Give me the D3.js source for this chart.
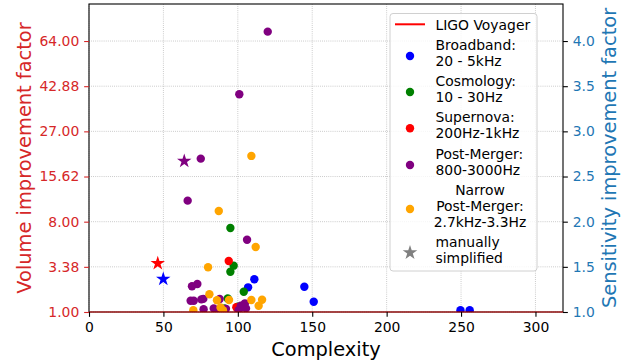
<!DOCTYPE html>
<html>
<head>
<meta charset="utf-8">
<script src="https://cdn.jsdelivr.net/npm/d3@7"></script>
<style>
  html, body { margin: 0; padding: 0; background: #fff; }
  svg { display: block; font-family: "DejaVu Sans", sans-serif; }
</style>
</head>
<body>
<svg id="chart" width="630" height="364"></svg>
<script>
// Complexity vs. sensitivity improvement (relative to LIGO Voyager) per detector search class.
// Each series: complexity values and sensitivity improvement factors.
const broadbandX = [111.1, 106.9, 144.7, 151.0, 249.6, 255.8];
const broadbandY = [1.362, 1.273, 1.280, 1.114, 1.02, 1.02];

const cosmologyX = [95.0, 97.2, 95.0, 104.0, 93.2, 91.0, 100.0];
const cosmologyY = [1.930, 1.513, 1.446, 1.225, 1.15, 1.04, 1.06];

const supernovaX = [93.9, 99.0];
const supernovaY = [1.565, 1.052];

const postMergerX = [120.1, 101.0, 75.1, 66.3, 106.2, 69.2, 72.8, 68.3, 70.4, 75.5, 76.8, 87.8, 104.8, 77.0, 83.8, 92.0, 102.0, 103.5, 105.5, 100.5, 86.0];
const postMergerY = [4.104, 3.411, 2.698, 2.233, 1.800, 1.285, 1.31, 1.125, 1.125, 1.14, 1.145, 1.144, 1.096, 1.03, 1.04, 1.035, 1.07, 1.055, 1.04, 1.02, 1.02];

const narrowX = [109.1, 87.2, 112.0, 80.0, 80.9, 70.1, 86.0, 94.1, 109.1, 116.3, 114.0, 88.4, 90.0];
const narrowY = [2.728, 2.118, 1.720, 1.495, 1.196, 1.02, 1.13, 1.133, 1.133, 1.136, 1.07, 1.05, 1.02];

// Manually simplified designs (stars)
const starX = [49.9, 46.2, 64.0];
const starY = [1.365, 1.539, 2.672];
const starColor = ["blue", "red", "purple"];

// Axis ticks
const xTicks = [0, 50, 100, 150, 200, 250, 300];
const sensTicks = [1.0, 1.5, 2.0, 2.5, 3.0, 3.5, 4.0];
const volumeTickLabels = ["1.00", "3.38", "8.00", "15.62", "27.00", "42.88", "64.00"];
const sensTickLabels = ["1.0", "1.5", "2.0", "2.5", "3.0", "3.5", "4.0"];

const voyagerLevel = 1.0;

const series = [
  { name: "Broadband", xs: broadbandX, ys: broadbandY, color: "blue", label: ["Broadband:", "20 - 5kHz"] },
  { name: "Cosmology", xs: cosmologyX, ys: cosmologyY, color: "green", label: ["Cosmology:", "10 - 30Hz"] },
  { name: "Supernova", xs: supernovaX, ys: supernovaY, color: "red", label: ["Supernova:", "200Hz-1kHz"] },
  { name: "PostMerger", xs: postMergerX, ys: postMergerY, color: "purple", label: ["Post-Merger:", "800-3000Hz"] },
  { name: "Narrow", xs: narrowX, ys: narrowY, color: "orange", label: ["Narrow", "Post-Merger:", "2.7kHz-3.3Hz"], center: true }
];

const RED = "#d62728", BLUE = "#1f77b4";
const FS = 13.9, LFS = 19.4, TICK = 4.86, PAD = 4.86;

const svg = d3.select("#chart");
const L = 89, R = 563, T = 4, B = 312;

const x = d3.scaleLinear().domain([0, 318.5]).range([L, R]);
const y = d3.scaleLinear().domain([1, 4.41]).range([B, T]);

svg.append("defs").append("clipPath").attr("id", "plotclip")
  .append("rect").attr("x", L).attr("y", T).attr("width", R - L).attr("height", B - T);

// Grid
const grid = svg.append("g").attr("stroke", "#b0b0b0").attr("stroke-width", 0.8)
  .attr("stroke-dasharray", "0.8,1.3");
grid.selectAll("line.v").data(xTicks).join("line")
  .attr("x1", d => x(d)).attr("x2", d => x(d)).attr("y1", T).attr("y2", B);
grid.selectAll("line.h").data(sensTicks).join("line")
  .attr("y1", d => y(d)).attr("y2", d => y(d)).attr("x1", L).attr("x2", R);

const plot = svg.append("g").attr("clip-path", "url(#plotclip)");

// Star path (matplotlib-like 5-point star)
function starPath(r) {
  const inner = r * 0.381966;
  const pts = [];
  for (let i = 0; i < 10; i++) {
    const rad = i % 2 === 0 ? r : inner;
    const a = -Math.PI / 2 + i * Math.PI / 5;
    pts.push([rad * Math.cos(a), rad * Math.sin(a)]);
  }
  return "M" + pts.map(p => p[0].toFixed(2) + "," + p[1].toFixed(2)).join("L") + "Z";
}

// Points
series.forEach(s => {
  plot.append("g").selectAll("circle").data(s.xs.map((v, i) => [v, s.ys[i]])).join("circle")
    .attr("cx", d => x(d[0])).attr("cy", d => y(d[1])).attr("r", 4.2)
    .attr("fill", s.color);
});
plot.append("g").selectAll("path").data(starX.map((v, i) => [v, starY[i], starColor[i]])).join("path")
  .attr("d", starPath(7.6))
  .attr("transform", d => `translate(${x(d[0])},${y(d[1])})`)
  .attr("fill", d => d[2]);

// Spines
svg.append("rect").attr("x", L).attr("y", T).attr("width", R - L).attr("height", B - T)
  .attr("fill", "none").attr("stroke", "#000").attr("stroke-width", 1.1);

// LIGO Voyager reference line
svg.append("line").attr("x1", L).attr("x2", R)
  .attr("y1", y(voyagerLevel)).attr("y2", y(voyagerLevel))
  .attr("stroke", "red").attr("stroke-width", 1.6).attr("stroke-opacity", 0.5);

// Axes
function styleAxis(g, color, tickColor) {
  g.select(".domain").remove();
  g.selectAll(".tick line").attr("stroke", tickColor).attr("stroke-width", 1.1);
  g.selectAll(".tick text").attr("fill", color).attr("font-size", FS)
    .attr("font-family", "DejaVu Sans");
}

const xAxis = svg.append("g").attr("transform", `translate(0,${B})`)
  .call(d3.axisBottom(x).tickValues(xTicks).tickFormat(d3.format("d")).tickSize(TICK).tickPadding(PAD));
styleAxis(xAxis, "#000", "#000");

const yLeft = svg.append("g").attr("transform", `translate(${L},0)`)
  .call(d3.axisLeft(y).tickValues(sensTicks).tickFormat((d, i) => volumeTickLabels[i]).tickSize(TICK).tickPadding(PAD));
styleAxis(yLeft, RED, RED);

const yRight = svg.append("g").attr("transform", `translate(${R},0)`)
  .call(d3.axisRight(y).tickValues(sensTicks).tickFormat((d, i) => sensTickLabels[i]).tickSize(TICK).tickPadding(PAD));
styleAxis(yRight, BLUE, "#000");

// Axis titles
svg.append("text").attr("x", (L + R) / 2).attr("y", 356).attr("text-anchor", "middle")
  .attr("font-size", LFS).attr("fill", "#000").text("Complexity");
svg.append("text").attr("transform", `translate(31,${(T + B) / 2}) rotate(-90)`)
  .attr("text-anchor", "middle").attr("font-size", LFS).attr("fill", RED)
  .text("Volume improvement factor");
svg.append("text").attr("transform", `translate(616,${(T + B) / 2}) rotate(-90)`)
  .attr("text-anchor", "middle").attr("font-size", LFS).attr("fill", BLUE)
  .text("Sensitivity improvement factor");

// Legend
const lg = svg.append("g");
lg.append("rect").attr("x", 390).attr("y", 13.5).attr("width", 147).attr("height", 257.5)
  .attr("rx", 3).attr("fill", "#fff").attr("fill-opacity", 0.8)
  .attr("stroke", "#d0d0d0").attr("stroke-width", 1);

const mx = 410, tx = 435.5, lineGap = 15.8;
function legendText(lines, cy, center) {
  const n = lines.length;
  lines.forEach((t, i) => {
    const by = cy + (i - (n - 1) / 2) * lineGap + (n === 1 ? 5.3 : 2);
    lg.append("text").attr("x", center ? 480 : tx).attr("y", by)
      .attr("text-anchor", center ? "middle" : "start")
      .attr("font-size", FS).attr("fill", "#000").text(t);
  });
}

lg.append("line").attr("x1", 395).attr("x2", 425).attr("y1", 24.3).attr("y2", 24.3)
  .attr("stroke", "red").attr("stroke-width", 2);
legendText(["LIGO Voyager"], 24.3);

const legendY = [56, 92, 128.3, 165, 209];
series.forEach((s, i) => {
  lg.append("circle").attr("cx", mx).attr("cy", legendY[i]).attr("r", 4.2).attr("fill", s.color);
  legendText(s.label, legendY[i], s.center);
});

lg.append("path").attr("d", starPath(7.7)).attr("transform", `translate(${mx},252.7)`).attr("fill", "gray");
legendText(["manually", "simplified"], 252.7);
</script>
</body>
</html>
